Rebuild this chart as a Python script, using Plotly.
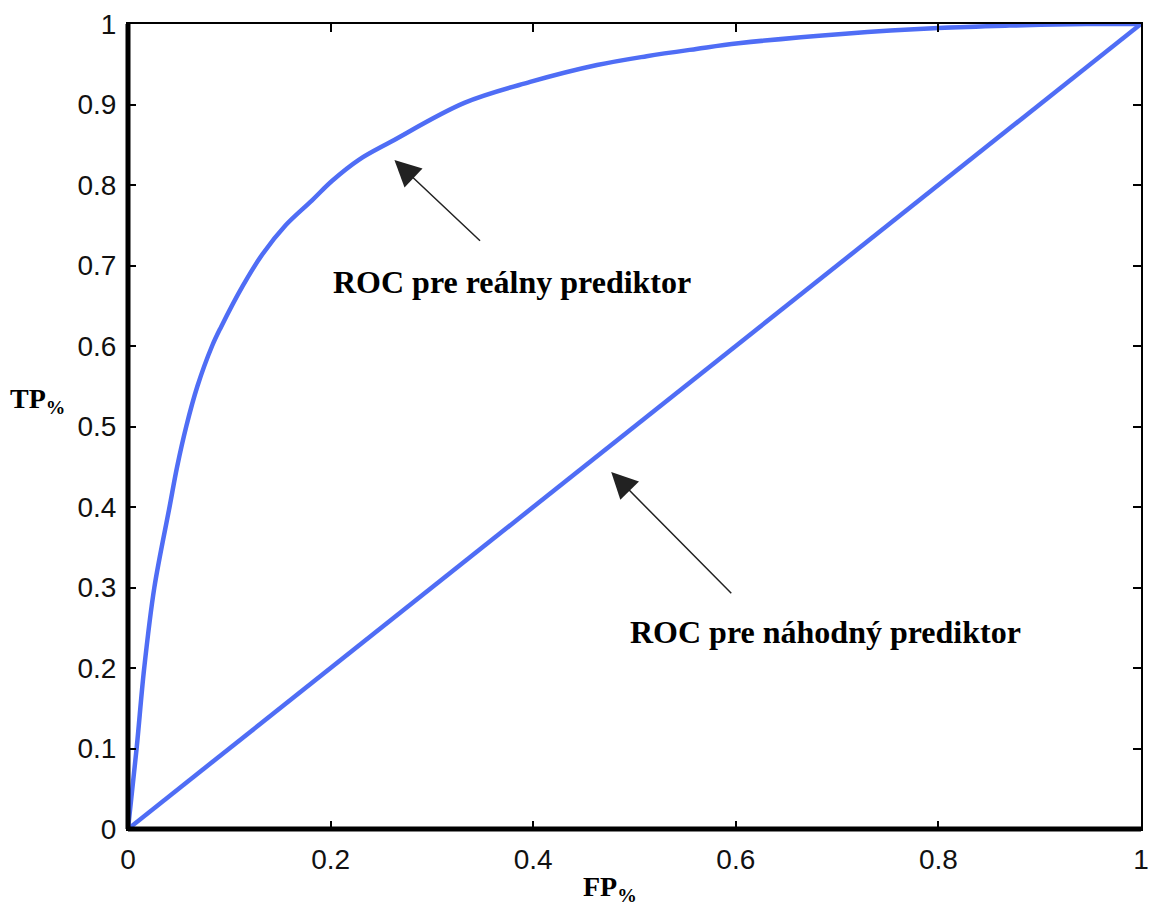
import plotly.graph_objects as go

# Data
fp_real = [0, 0.0085, 0.016, 0.026, 0.041, 0.0485, 0.0575, 0.0685, 0.083, 0.092, 0.113, 0.1327,
           0.1556, 0.1817, 0.2013, 0.2275, 0.26, 0.332, 0.397, 0.463, 0.512, 0.561, 0.6026,
           0.708, 0.8, 0.87, 0.946, 1.0]
tp_real = [0, 0.1, 0.2, 0.3, 0.4, 0.45, 0.5, 0.55, 0.6, 0.624, 0.674, 0.714,
           0.750, 0.781, 0.805, 0.831, 0.854, 0.902, 0.928, 0.949, 0.960, 0.969, 0.976,
           0.988, 0.995, 0.998, 1.0, 1.0]
fp_rand = [0, 1]
tp_rand = [0, 1]

x_ticks = [0, 0.2, 0.4, 0.6, 0.8, 1]
x_labels = ["0", "0.2", "0.4", "0.6", "0.8", "1"]
y_ticks = [0, 0.1, 0.2, 0.3, 0.4, 0.5, 0.6, 0.7, 0.8, 0.9, 1]
y_labels = ["0", "0.1", "0.2", "0.3", "0.4", "0.5", "0.6", "0.7", "0.8", "0.9", "1"]

label_real = "ROC pre reálny prediktor"
label_rand = "ROC pre náhodný prediktor"

blue = "#4f6df5"

fig = go.Figure()
fig.add_trace(go.Scatter(x=fp_real, y=tp_real, mode="lines",
                         line=dict(color=blue, width=4.5, shape="spline", smoothing=1.0),
                         showlegend=False, hoverinfo="skip"))
fig.add_trace(go.Scatter(x=fp_rand, y=tp_rand, mode="lines",
                         line=dict(color=blue, width=4.5),
                         showlegend=False, hoverinfo="skip"))

axis_common = dict(
    showgrid=False, zeroline=False, showline=True, linecolor="black", linewidth=2,
    mirror="allticks", ticks="inside", ticklen=8, tickwidth=1.5, tickcolor="black",
    tickfont=dict(family="Liberation Sans, Arial", size=28, color="#111"),
)

fig.update_xaxes(range=[0, 1], tickvals=x_ticks, ticktext=x_labels, ticklabelstandoff=4, **axis_common)
fig.update_yaxes(range=[0, 1], tickvals=y_ticks, ticktext=y_labels, ticklabelstandoff=4, **axis_common)

# thicker left and bottom axes
fig.add_shape(type="line", xref="paper", yref="paper", x0=0, x1=0, y0=0, y1=1,
              line=dict(color="black", width=5))
fig.add_shape(type="line", xref="paper", yref="paper", x0=0, x1=1, y0=0, y1=0,
              line=dict(color="black", width=5))

serif = "Liberation Serif, Times New Roman"

# arrows
fig.add_annotation(x=0.263, y=0.831, ax=0.349, ay=0.729, axref="x", ayref="y",
                   xref="x", yref="y", text="", showarrow=True,
                   arrowhead=2, arrowsize=3.5, arrowwidth=1.5, arrowcolor="#222")
fig.add_annotation(x=0.477, y=0.4435, ax=0.597, ay=0.291, axref="x", ayref="y",
                   xref="x", yref="y", text="", showarrow=True,
                   arrowhead=2, arrowsize=3.5, arrowwidth=1.5, arrowcolor="#222")

# labels
fig.add_annotation(x=0.379, y=0.68, xref="x", yref="y", text=f"<b>{label_real}</b>",
                   showarrow=False, xanchor="center", yanchor="middle",
                   font=dict(family=serif, size=32, color="black"))
fig.add_annotation(x=0.689, y=0.245, xref="x", yref="y", text=f"<b>{label_rand}</b>",
                   showarrow=False, xanchor="center", yanchor="middle",
                   font=dict(family=serif, size=32, color="black"))

# axis titles
fig.add_annotation(x=-0.089, y=0.532, xref="paper", yref="paper",
                   text="<b>TP<sub>%</sub></b>", showarrow=False,
                   xanchor="center", yanchor="middle",
                   font=dict(family=serif, size=28, color="black"))
fig.add_annotation(x=0.476, y=-0.098, xref="paper", yref="paper",
                   text="<b>FP<sub>%</sub></b>", showarrow=False,
                   xanchor="center", yanchor="bottom",
                   font=dict(family=serif, size=28, color="black"))

fig.update_layout(
    width=1156, height=908,
    margin=dict(l=128, r=7, t=24, b=79),
    paper_bgcolor="white", plot_bgcolor="white",
)

fig.write_html("out.html")
